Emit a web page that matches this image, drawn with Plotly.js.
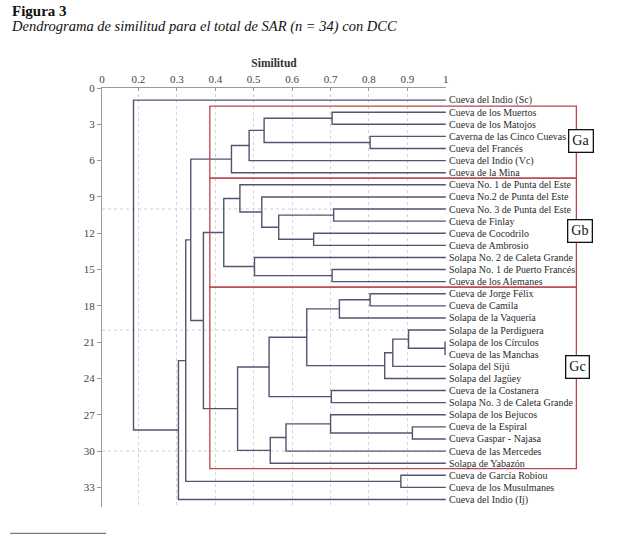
<!DOCTYPE html>
<html>
<head>
<meta charset="utf-8">
<script src="https://cdn.plot.ly/plotly-3.0.1.min.js"></script>
<style>html,body{margin:0;padding:0;background:#fff;}#chart{width:640px;height:539px;}</style>
</head>
<body>
<div id="chart"></div>
<script>
// Leaves (top to bottom)
const leafLabels = [
  "Cueva del Indio (Sc)","Cueva de los Muertos","Cueva de los Matojos","Caverna de las Cinco Cuevas",
  "Cueva del Francés","Cueva del Indio (Vc)","Cueva de la Mina","Cueva No. 1 de Punta del Este",
  "Cueva No.2 de Punta del Este","Cueva No. 3 de Punta del Este","Cueva de Finlay","Cueva de Cocodrilo",
  "Cueva de Ambrosio","Solapa No. 2 de Caleta Grande","Solapa No. 1 de Puerto Francés","Cueva de los Alemanes",
  "Cueva de Jorge Félix","Cueva de Camila","Solapa de la Vaquería","Solapa de la Perdiguera",
  "Solapa de los Círculos","Cueva de las Manchas","Solapa del Sijú","Solapa del Jagüey",
  "Cueva de la Costanera","Solapa No. 3 de Caleta Grande","Solapa de los Bejucos","Cueva de la Espiral",
  "Cueva Gaspar - Najasa","Cueva de las Mercedes","Solapa de Yabazón","Cueva de García Robiou",
  "Cueva de los Musulmanes","Cueva del Indio (Ij)"
];
// Merge steps: child A, child B (leaf index or node id = 34 + step index), similarity
const mergeA = [1,3,34,36,37, 9,11,39,8,7,14,13,43, 16,47,20,19,50,51,48,24,53,27,26,57,58,55, 46,38,31,62,64,0];
const mergeB = [2,4,35,5,6, 10,12,40,41,42,15,44,45, 17,18,21,49,22,23,52,25,54,28,56,29,30,59, 60,61,32,63,33,65];
const mergeSim = [0.704,0.803,0.527,0.488,0.442, 0.708,0.656,0.565,0.521,0.464,0.704,0.502,0.422,
  0.803,0.723,0.998,0.903,0.862,0.841,0.638,0.702,0.540,0.913,0.700,0.584,0.543,0.458,
  0.369,0.336,0.883,0.323,0.304,0.187];
const tickVals = [0.105,0.2,0.3,0.4,0.5,0.6,0.7,0.8,0.9,1.0];
const tickText = ["0","0.2","0.3","0.4","0.5","0.6","0.7","0.8","0.9","1"];
const yTicks = [0,3,6,9,12,15,18,21,24,27,30,33];
const groups = [
  {name:"Ga", y0:1.5, y1:7.45, ly:4.4, lx:1.393},
  {name:"Gb", y0:7.45, y1:16.45, ly:11.82, lx:1.390},
  {name:"Gc", y0:16.45, y1:31.45, ly:23.06, lx:1.381}
];

const n = leafLabels.length;
const pos = {}, hgt = {};
for (let i=0;i<n;i++){ pos[i]=i+1; hgt[i]=1.0; }
const xs=[], ys=[];
mergeA.forEach((a,k)=>{
  const b=mergeB[k], h=mergeSim[k], id=n+k;
  xs.push(hgt[a],h,h,hgt[b],null);
  ys.push(pos[a],pos[a],pos[b],pos[b],null);
  pos[id]=(pos[a]+pos[b])/2; hgt[id]=h;
});

const SERIF = "'Liberation Serif', 'Times New Roman', serif";
const traces=[{
  type:"scatter", mode:"lines", x:xs, y:ys, connectgaps:false,
  line:{color:"#515570", width:1.4}, hoverinfo:"skip", showlegend:false, cliponaxis:false
}];

const annotations = leafLabels.map((t,i)=>({
  x:1.0, y:i+1, xref:"x", yref:"y", text:t, showarrow:false, xanchor:"left", yanchor:"middle",
  xshift:1, font:{family:SERIF, size:10, color:"#2b2b2b"}
}));
annotations.push({xref:"paper", yref:"paper", x:-0.268, y:1.184, xanchor:"left", yanchor:"middle",
  text:"<b>Figura 3</b>", showarrow:false, font:{family:SERIF, size:15, color:"#111"}});
annotations.push({xref:"paper", yref:"paper", x:-0.27, y:1.146, xanchor:"left", yanchor:"middle",
  text:"<i>Dendrograma de similitud para el total de SAR (n = 34) con DCC</i>", showarrow:false,
  font:{family:SERIF, size:14.5, color:"#111"}});
groups.forEach(g=>{
  annotations.push({xref:"paper", yref:"y", x:g.lx, y:g.ly, text:g.name, showarrow:false,
    xanchor:"center", yanchor:"middle", bordercolor:"#111", borderwidth:1.3, borderpad:3,
    bgcolor:"#fff", font:{family:SERIF, size:14, color:"#111"}});
});

const shapes = [];
groups.forEach(g=>{
  shapes.push({type:"rect", xref:"paper", yref:"y", x0:0.3134, x1:1.379, y0:g.y0, y1:g.y1,
    line:{color:"#b8474c", width:1.3}, fillcolor:"rgba(0,0,0,0)", layer:"above"});
});
[10,20,30].forEach(v=>{
  shapes.push({type:"line", xref:"paper", yref:"y", x0:0, x1:1, y0:v, y1:v,
    line:{color:"#cfcfcf", width:1, dash:"dot"}, layer:"below"});
});
// footnote rule
shapes.push({type:"line", xref:"paper", yref:"paper", x0:-0.267, x1:0.012, y0:-0.063, y1:-0.063,
  line:{color:"#777", width:1.2}});

const layout = {
  width:640, height:539,
  margin:{l:102, r:194, t:88, b:32},
  paper_bgcolor:"#fff", plot_bgcolor:"#fff",
  showlegend:false,
  xaxis:{
    side:"top", range:[0.105,1.0005], tickvals:tickVals, ticktext:tickText,
    showgrid:true, gridcolor:"#d4d4d4", griddash:"dot", gridwidth:1,
    zeroline:false, showline:true, linecolor:"#9a9a9a", linewidth:1,
    ticks:"inside", ticklen:3, tickcolor:"#9a9a9a",
    tickfont:{family:SERIF, size:11, color:"#444"},
    title:{text:"<b>Similitud</b>", standoff:2, font:{family:SERIF, size:11.5, color:"#333"}},
    fixedrange:true
  },
  yaxis:{
    range:[34.62,0], tickvals:yTicks, showgrid:false, zeroline:false,
    showline:true, linecolor:"#9a9a9a", linewidth:1,
    ticks:"outside", ticklen:4, tickcolor:"#9a9a9a",
    tickfont:{family:SERIF, size:11, color:"#444"}, fixedrange:true
  },
  shapes:shapes, annotations:annotations
};
Plotly.newPlot("chart", traces, layout, {displayModeBar:false, staticPlot:true});
</script>
</body>
</html>
